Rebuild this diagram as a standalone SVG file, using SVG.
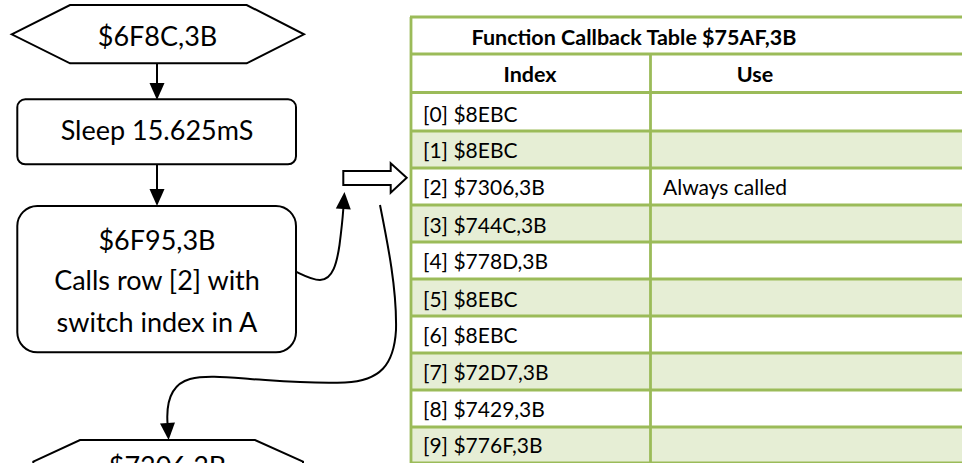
<svg xmlns="http://www.w3.org/2000/svg" width="962" height="463" viewBox="0 0 962 463">
  <style>
    .shape { fill: #ffffff; stroke: #000000; stroke-width: 2; }
    .flow { font-family: Lato, "Open Sans", sans-serif; font-size: 27px; fill: #000000; text-anchor: middle; }
    .wire { fill: none; stroke: #000000; stroke-width: 2; }
    .cell { font-family: Lato, "Open Sans", sans-serif; font-size: 21px; fill: #000000; }
    .head { font-family: Lato, "Open Sans", sans-serif; font-size: 21.5px; font-weight: bold; fill: #000000; text-anchor: middle; }
    .band { fill: #E6EED5; }
    .rule { stroke: #9BBB59; stroke-width: 2.8; fill: none; }
  </style>
  <defs>
    <marker id="head" markerUnits="userSpaceOnUse" markerWidth="17" markerHeight="15" refX="0" refY="7.5" orient="auto" overflow="visible">
      <path d="M0,0 L17,7.5 L0,15 Z" fill="#000000"/>
    </marker>
  </defs>

  <rect width="962" height="463" fill="#ffffff"/>

  <!-- Flowchart nodes -->
  <g id="entry">
    <polygon class="shape" points="11.7,34.3 70,5 246.7,5 304,34.3 246.7,63.3 70,63.3"/>
    <text class="flow" x="157.5" y="46">$6F8C,3B</text>
  </g>
  <g id="sleep">
    <rect class="shape" x="17.3" y="99.3" width="278.7" height="65" rx="8" ry="8"/>
    <text class="flow" x="157" y="140">Sleep 15.625mS</text>
  </g>
  <g id="dispatch">
    <rect class="shape" x="17.3" y="206" width="278.7" height="146.3" rx="20" ry="20"/>
    <text class="flow" x="157" y="250">$6F95,3B</text>
    <text class="flow" x="157" y="290">Calls row [2] with</text>
    <text class="flow" x="157" y="331.5">switch index in A</text>
  </g>
  <g id="handler">
    <polygon class="shape" points="33.3,461.7 80,440 255,440 303,461.7 303,500 33.3,500"/>
    <text class="flow" x="167.5" y="476">$7306,3B</text>
  </g>

  <!-- Block arrow pointing into the table -->
  <g id="lookup">
    <polygon class="shape" stroke-width="1.6" points="343.3,171 390.7,171 390.7,163.3 406.7,177.7 390.7,192.7 390.7,185 343.3,185"/>
  </g>

  <!-- Connectors -->
  <g id="connectors">
    <path class="wire" d="M157,63.3 L157,83" marker-end="url(#head)"/>
    <path class="wire" d="M157,164.3 L157,189" marker-end="url(#head)"/>
    <path class="wire" d="M296,271.7 C305,276 312,280 320,280 C333,280 337,262 339.5,245 C341.3,231 342.6,219 343.3,209" marker-end="url(#head)"/>
    <path class="wire" d="M380,205 C388,245 397,290 396,330 C394,365 380,381 345,382.5 C310,384 280,381 250,379 C225,377 205,375 190,379 C172,384 166,400 167.5,423" marker-end="url(#head)"/>
  </g>

  <!-- Callback table -->
  <g id="callback-table">
    <rect class="band" x="411" y="131" width="551" height="37"/>
    <rect class="band" x="411" y="205" width="551" height="37"/>
    <rect class="band" x="411" y="279" width="551" height="37"/>
    <rect class="band" x="411" y="353" width="551" height="37"/>
    <rect class="band" x="411" y="427" width="551" height="37"/>

    <line class="rule" x1="410" y1="17" x2="962" y2="17"/>
    <line class="rule" x1="411" y1="17" x2="411" y2="463"/>
    <line class="rule" x1="411" y1="54" x2="962" y2="54"/>
    <line class="rule" x1="650.5" y1="54" x2="650.5" y2="463"/>
    <line class="rule" stroke-width="4.5" x1="411" y1="92.5" x2="962" y2="92.5"/>
    <line class="rule" x1="411" y1="131" x2="962" y2="131"/>
    <line class="rule" x1="411" y1="168" x2="962" y2="168"/>
    <line class="rule" x1="411" y1="205" x2="962" y2="205"/>
    <line class="rule" x1="411" y1="242" x2="962" y2="242"/>
    <line class="rule" x1="411" y1="279" x2="962" y2="279"/>
    <line class="rule" x1="411" y1="316" x2="962" y2="316"/>
    <line class="rule" x1="411" y1="353" x2="962" y2="353"/>
    <line class="rule" x1="411" y1="390" x2="962" y2="390"/>
    <line class="rule" x1="411" y1="427" x2="962" y2="427"/>
    <line class="rule" x1="411" y1="463" x2="962" y2="463"/>

    <text class="head" x="634" y="45">Function Callback Table $75AF,3B</text>
    <text class="head" x="530" y="81.5">Index</text>
    <text class="head" x="755" y="81.5">Use</text>

    <text class="cell" x="423" y="121.5">[0] $8EBC</text>
    <text class="cell" x="423" y="158.3">[1] $8EBC</text>
    <text class="cell" x="423" y="195">[2] $7306,3B</text>
    <text class="cell" x="663" y="195">Always called</text>
    <text class="cell" x="423" y="232.5">[3] $744C,3B</text>
    <text class="cell" x="423" y="269.3">[4] $778D,3B</text>
    <text class="cell" x="423" y="306.5">[5] $8EBC</text>
    <text class="cell" x="423" y="343.3">[6] $8EBC</text>
    <text class="cell" x="423" y="380">[7] $72D7,3B</text>
    <text class="cell" x="423" y="416.7">[8] $7429,3B</text>
    <text class="cell" x="423" y="453.3">[9] $776F,3B</text>
  </g>
</svg>
